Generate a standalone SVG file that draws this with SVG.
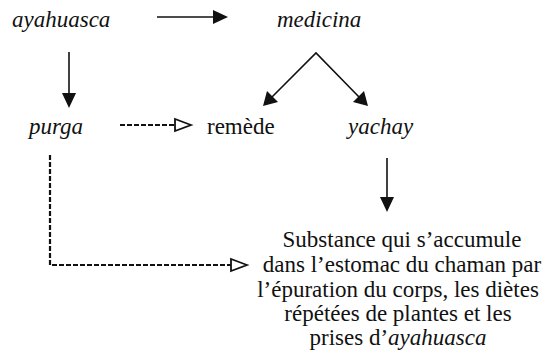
<svg xmlns="http://www.w3.org/2000/svg" width="549" height="352" viewBox="0 0 549 352">
<style>
text{font-family:"Liberation Serif","Times New Roman",serif;font-size:23px;fill:#111}
.it{font-style:italic}
.ln{stroke:#111;stroke-width:1.6;fill:none}
.ds{stroke:#111;stroke-width:2.2;fill:none;stroke-dasharray:5 2}
.fh{fill:#111;stroke:none}
.oh{fill:#fff;stroke:#111;stroke-width:1.8}
</style>
<rect width="549" height="352" fill="#fff"/>
<g id="n-ayahuasca"><text class="it" x="12" y="27">ayahuasca</text></g>
<g id="n-medicina"><text class="it" x="277" y="27">medicina</text></g>
<g id="n-purga"><text class="it" x="29" y="134">purga</text></g>
<g id="n-remede"><text x="207" y="134">remède</text></g>
<g id="n-yachay"><text class="it" x="348" y="134">yachay</text></g>
<g id="n-substance">
<text text-anchor="middle" x="402" y="247">Substance qui s’accumule</text>
<text text-anchor="middle" x="402" y="272">dans l’estomac du chaman par</text>
<text text-anchor="middle" x="398" y="297">l’épuration du corps, les diètes</text>
<text text-anchor="middle" x="398" y="321">répétées de plantes et les</text>
<text text-anchor="middle" x="398" y="345">prises d’<tspan class="it">ayahuasca</tspan></text>
</g>
<g id="connectors">
<line class="ln" x1="157" y1="17" x2="215" y2="17"/>
<polygon class="fh" points="228,17 213,10 213,24"/>
<line class="ln" x1="69" y1="52" x2="69" y2="95"/>
<polygon class="fh" points="69,108 62,93 76,93"/>
<polyline class="ln" points="271,98 316,53 360,98"/>
<polygon class="fh" points="263,106 267,91 278,102"/>
<polygon class="fh" points="368,106 353,102 364,91"/>
<line class="ln" x1="387" y1="158" x2="387" y2="199"/>
<polygon class="fh" points="387,212 380,197 394,197"/>
<line class="ds" x1="120" y1="125" x2="174" y2="125"/>
<polygon class="oh" points="191,125 175,119 175,131"/>
<polyline class="ds" points="50,155 50,265 231,265"/>
<polygon class="oh" points="247,265 231,259 231,271"/>
</g>
</svg>
